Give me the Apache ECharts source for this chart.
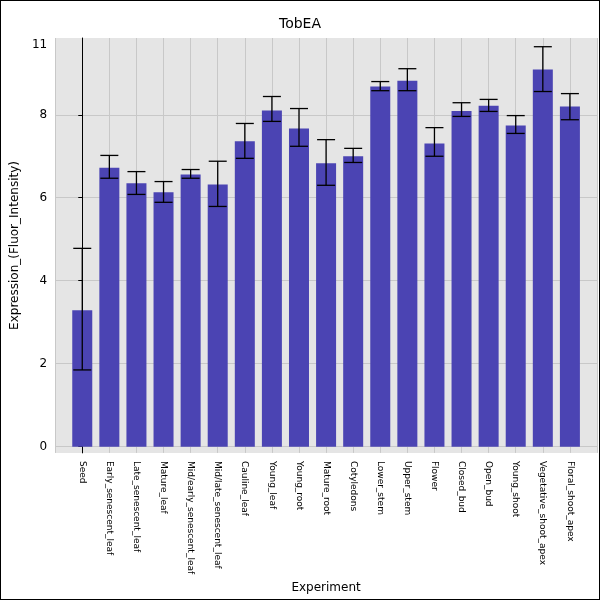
<!DOCTYPE html>
<html>
<head>
<meta charset="utf-8">
<script src="https://cdn.jsdelivr.net/npm/echarts@6/dist/echarts.min.js"></script>
<style>
body{margin:0}
#main{width:598px;height:598px;border:1px solid #000}
</style>
</head>
<body>
<div id="main"></div>
<script>
var categories = ['Seed','Early_senescent_leaf','Late_senescent_leaf','Mature_leaf','Mid/early_senescent_leaf','Mid/late_senescent_leaf','Cauline_leaf','Young_leaf','Young_root','Mature_root','Cotyledons','Lower_stem','Upper_stem','Flower','Closed_bud','Open_bud','Young_shoot','Vegetative_shoot_apex','Floral_shoot_apex'];
var values = [3.29,6.72,6.35,6.13,6.56,6.32,7.36,8.1,7.67,6.83,7.0,8.68,8.82,7.31,8.09,8.22,7.74,9.09,8.2];
var errLow = [1.85,6.47,6.08,5.89,6.47,5.79,6.95,7.84,7.24,6.3,6.85,8.58,8.58,7.0,7.96,8.08,7.55,8.56,7.88];
var errHigh = [4.78,7.02,6.63,6.39,6.68,6.88,7.79,8.44,8.15,7.4,7.19,8.8,9.11,7.69,8.29,8.37,7.98,9.64,8.51];
var yTicks = [0,2,4,6,8];
var yMax = 9.85;

var barData = values.map(function (v, i) { return [i, v]; });
var errData = categories.map(function (c, i) { return [i, errLow[i], errHigh[i]]; });

var chart = echarts.init(document.getElementById('main'));
chart.setOption({
    backgroundColor: '#fff',
    title: {text: 'TobEA', left: 'center', top: 11, textStyle: {fontSize: 14, fontWeight: 'normal', color: '#000', fontFamily: 'DejaVu Sans'}},
    grid: {left: 50, right: 2, top: 37, bottom: 143, backgroundColor: '#e5e5e5', show: true, borderWidth: 0},
    xAxis: {
        type: 'value', min: -1, max: 19, interval: 1,
        name: 'Experiment', nameLocation: 'middle', nameGap: 128,
        nameTextStyle: {fontSize: 12, color: '#000', fontFamily: 'DejaVu Sans'},
        axisLine: {show: false}, axisTick: {show: false},
        axisLabel: {rotate: -90, fontSize: 9, color: '#000', fontFamily: 'DejaVu Sans', margin: 8,
            showMinLabel: false, showMaxLabel: false,
            formatter: function (v) { return categories[v] || ''; }},
        splitLine: {show: true, lineStyle: {color: '#c8c8c8'}}
    },
    yAxis: {
        type: 'value', min: -0.15, max: yMax,
        name: 'Expression_(Fluor_Intensity)', nameLocation: 'middle', nameGap: 32,
        nameTextStyle: {fontSize: 12, color: '#000', fontFamily: 'DejaVu Sans'},
        axisLine: {show: true, lineStyle: {color: '#000'}},
        axisTick: {show: true, customValues: yTicks, length: 4, lineStyle: {color: '#000'}},
        axisLabel: {customValues: yTicks.concat([yMax - 0.17]), fontSize: 12, color: '#000', fontFamily: 'DejaVu Sans',
            formatter: function (v) { return v > 9 ? '11' : String(v); }},
        splitLine: {show: true, lineStyle: {color: '#c8c8c8'}}
    },
    series: [
        {type: 'bar', data: barData, barWidth: 20, itemStyle: {color: '#4b44b3'}, silent: true},
        {
            type: 'custom', data: errData, z: 10, silent: true,
            renderItem: function (params, api) {
                var lo = api.coord([api.value(0), api.value(1)]);
                var hi = api.coord([api.value(0), api.value(2)]);
                var w = 9;
                var st = {stroke: '#000', lineWidth: 1.3};
                return {type: 'group', children: [
                    {type: 'line', shape: {x1: lo[0], y1: lo[1], x2: hi[0], y2: hi[1]}, style: st},
                    {type: 'line', shape: {x1: lo[0] - w, y1: lo[1], x2: lo[0] + w, y2: lo[1]}, style: st},
                    {type: 'line', shape: {x1: hi[0] - w, y1: hi[1], x2: hi[0] + w, y2: hi[1]}, style: st}
                ]};
            }
        }
    ]
});
</script>
</body>
</html>
